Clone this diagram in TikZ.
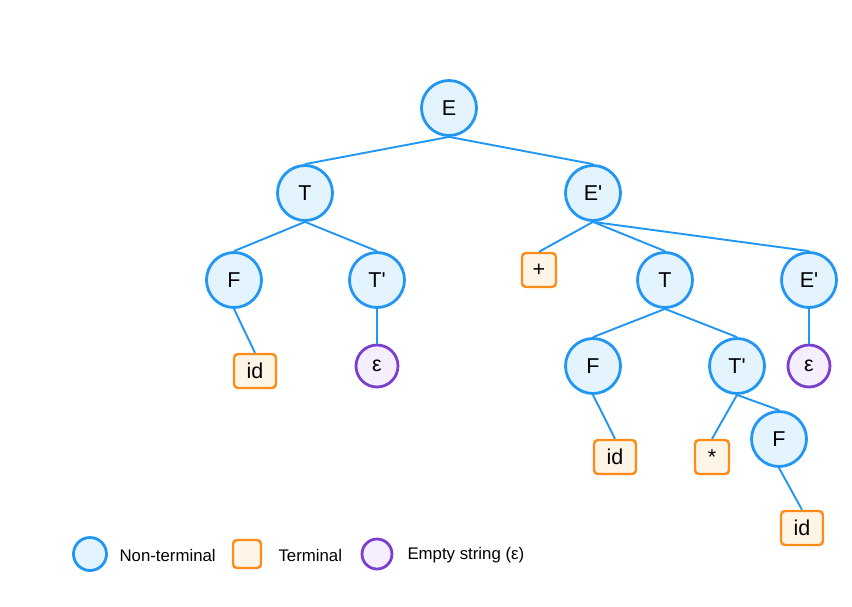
\documentclass[tikz,border=0pt]{standalone}
\usepackage{fontspec}
\setmainfont{Liberation Sans}[Ligatures=TeXOff]
\definecolor{ntstroke}{HTML}{2196F3}
\definecolor{ntfill}{HTML}{E3F4FF}
\definecolor{tstroke}{HTML}{FF8C1A}
\definecolor{tfill}{HTML}{FFF5E6}
\definecolor{estroke}{HTML}{7B3FD0}
\definecolor{efill}{HTML}{F5EEFF}
\begin{document}
\begin{tikzpicture}[x=1pt,y=-1pt,
  nt/.style={circle,draw=ntstroke,fill=ntfill,line width=2.8pt,minimum size=55pt,inner sep=0pt,font=\fontsize{21.5}{24}\selectfont},
  tm/.style={rounded corners=4pt,draw=tstroke,fill=tfill,line width=2.4pt,minimum height=34pt,minimum width=34pt,inner sep=0pt,font=\fontsize{21.5}{24}\selectfont},
  ep/.style={circle,draw=estroke,fill=efill,line width=2.8pt,minimum size=42pt,inner sep=0pt,font=\fontsize{21.5}{24}\selectfont},
  edge/.style={draw=ntstroke,line width=1.9pt},
  lg/.style={anchor=west,font=\fontsize{16.8}{19}\selectfont}]
\useasboundingbox (0,0) rectangle (852,606);
% nodes
\node[nt] (E) at (449,108) {E};
\node[nt] (T1) at (305,193) {T};
\node[nt] (Ep1) at (593,193) {E'};
\node[nt] (F1) at (234,280) {F};
\node[nt] (Tp1) at (377,280) {T'};
\node[tm] (plus) at (539,270) {+};
\node[nt] (T2) at (665,280) {T};
\node[nt] (Ep2) at (809,280) {E'};
\node[tm,minimum width=42pt] (id1) at (255,371) {id};
\node[ep] (eps1) at (377,366) {ε};
\node[nt] (F2) at (593,366) {F};
\node[nt] (Tp2) at (737,366) {T'};
\node[ep] (eps2) at (809,366) {ε};
\node[tm,minimum width=42pt] (id2) at (615,457) {id};
\node[tm] (star) at (712,457) {*};
\node[nt] (F3) at (779,439) {F};
\node[tm,minimum width=42pt] (id3) at (802,528) {id};
% edges
\draw[edge] (E.south) -- (T1.north);
\draw[edge] (E.south) -- (Ep1.north);
\draw[edge] (T1.south) -- (F1.north);
\draw[edge] (T1.south) -- (Tp1.north);
\draw[edge] (F1.south) -- (id1.north);
\draw[edge] (Tp1.south) -- (eps1.north);
\draw[edge] (Ep1.south) -- (plus.north);
\draw[edge] (Ep1.south) -- (T2.north);
\draw[edge] (Ep1.south) -- (Ep2.north);
\draw[edge] (T2.south) -- (F2.north);
\draw[edge] (T2.south) -- (Tp2.north);
\draw[edge] (Ep2.south) -- (eps2.north);
\draw[edge] (F2.south) -- (id2.north);
\draw[edge] (Tp2.south) -- (star.north);
\draw[edge] (Tp2.south) -- (F3.north);
\draw[edge] (F3.south) -- (id3.north);
% legend
\node[circle,draw=ntstroke,fill=ntfill,line width=2.8pt,minimum size=33pt,inner sep=0pt] (lnt) at (90,554) {};
\node[lg] (lntt) at (116,555) {Non-terminal};
\node[rounded corners=4pt,draw=tstroke,fill=tfill,line width=2.4pt,minimum size=28pt,inner sep=0pt] (lt) at (247,554) {};
\node[lg] (ltt) at (275,555) {Terminal};
\node[circle,draw=estroke,fill=efill,line width=2.8pt,minimum size=30pt,inner sep=0pt] (le) at (377,554) {};
\node[lg] (let) at (404,555) {Empty string (ε)};
\end{tikzpicture}
\end{document}
